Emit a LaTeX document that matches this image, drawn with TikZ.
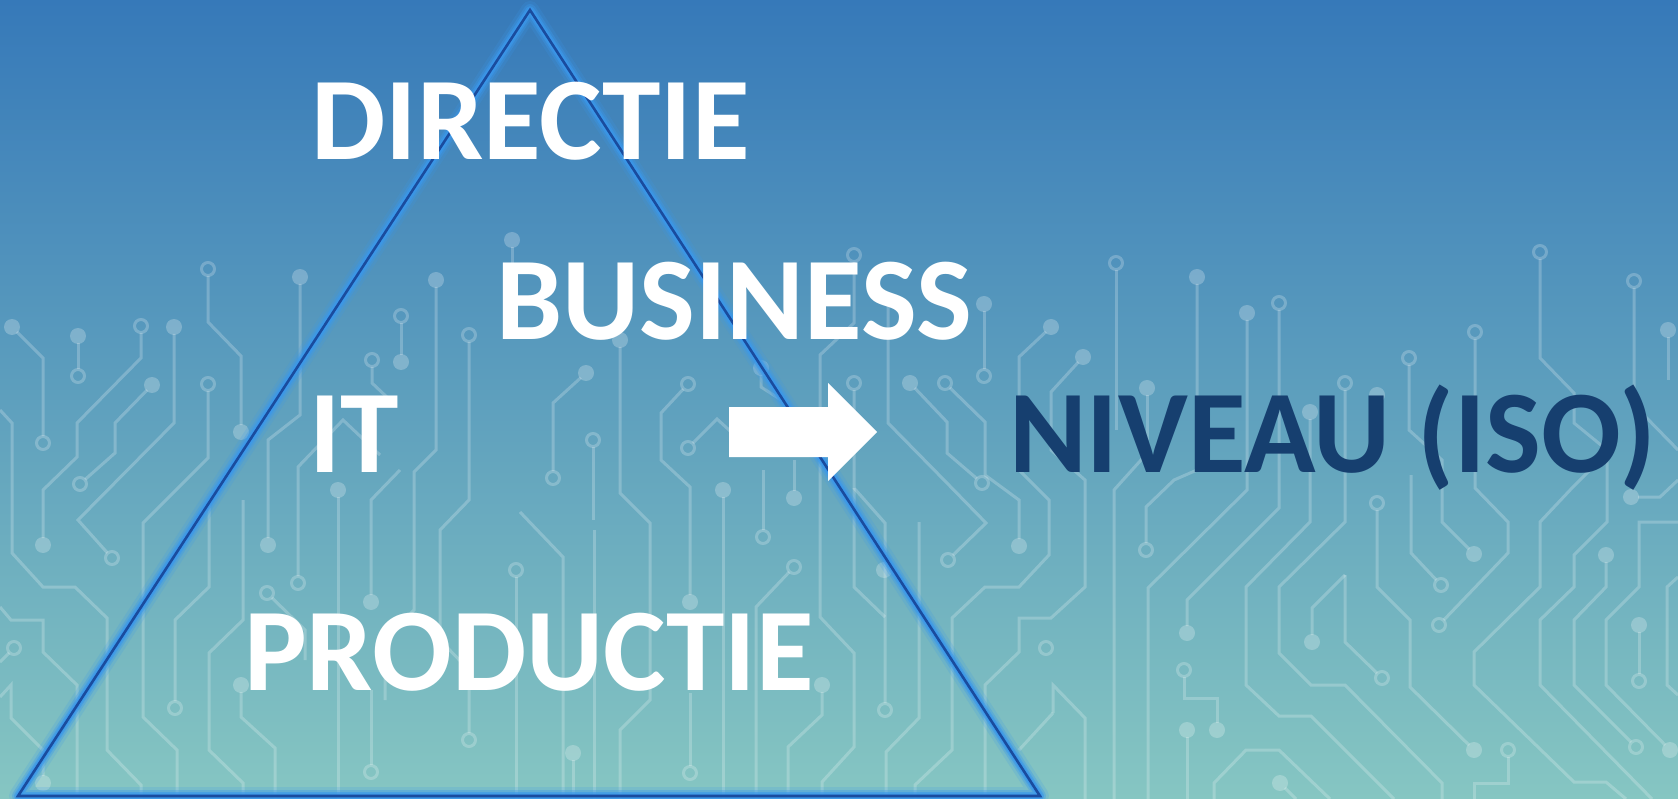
\documentclass[tikz,border=0pt]{standalone}
\usepackage{fontspec}
\newfontfamily\carl{Carlito}
\definecolor{bgtop}{HTML}{3679B9}
\definecolor{bgbot}{HTML}{86C6C2}
\definecolor{triline}{HTML}{1A4C9E}
\definecolor{triglow}{HTML}{3A98EC}
\definecolor{navy}{HTML}{163F6F}
\tikzset{
  tr/.style={draw=white, draw opacity=0.22, line width=3pt},
  pdot/.style={fill=white, fill opacity=0.24},
  pring/.style={draw=white, draw opacity=0.22, line width=3pt},
  ts/.style={shorten <=7pt},
  te/.style={shorten >=7pt},
  lbl/.style={font=\carl\bfseries\fontsize{118}{120}\selectfont, text=white, inner sep=0pt, anchor=base west},
}
\newcommand\pd[1]{\fill[pdot] (#1) circle[radius=8pt];}
\newcommand\pr[1]{\draw[pring] (#1) circle[radius=6.5pt];}
\begin{document}
\begin{tikzpicture}[x=1pt,y=-1pt]
\useasboundingbox (0,0) rectangle (1678,799);
\shade[top color=bgtop, bottom color=bgbot] (0,0) rectangle (1678,799);

% ---------- circuit pattern ----------
% left part
\pd{12,327} \draw[tr,ts,te] (12,327)--(43,358)--(43,443); \pr{43,443}
\pd{78,336} \draw[tr,ts,te] (78,336)--(78,376); \pr{78,376}
\pr{141,326} \draw[tr,ts,te] (141,326)--(141,358)--(77,423)--(77,457)--(43,490)--(43,545); \pd{43,545}
\pd{152,385} \draw[tr,ts,te] (152,385)--(115,423)--(115,453)--(80,484); \pr{80,484}
\pd{174,327} \draw[tr,ts,te] (174,327)--(174,423)--(78,520)--(112,558); \pr{112,558}
\pr{208,269} \draw[tr,ts,te] (208,269)--(208,322)--(241,356)--(241,432); \pd{241,432}
\pr{208,384} \draw[tr,ts] (208,384)--(208,458)--(143,523)--(143,717)--(177,750)--(177,799);
\pd{300,277} \draw[tr,ts,te] (300,277)--(300,415)--(268,440)--(268,545); \pd{268,545}
\pr{372,360} \draw[tr,ts] (372,360)--(372,383)--(390,400);
\draw[tr,te] (380,455)--(343,420)--(298,467)--(298,583); \pr{298,583}
\pd{338,490} \draw[tr,ts] (338,490)--(338,799);
\draw[tr] (0,410)--(12,423)--(12,553)--(43,587)--(75,587)--(107,618)--(107,750)--(141,785)--(141,799);
\draw[tr] (0,607)--(11,620)--(43,620)--(43,652)--(77,685)--(77,799);
\pr{14,648} \draw[tr,ts] (14,648)--(0,662);
\draw[tr,te] (0,697)--(11,685)--(11,718)--(43,750)--(43,783); \pd{43,783}
\draw[tr,te] (209,500)--(209,587)--(175,620)--(175,708); \pr{175,708}
\draw[tr] (243,500)--(243,620)--(209,653)--(209,750)--(243,783)--(243,799);
\pd{241,685} \draw[tr,ts] (241,685)--(241,717)--(275,748)--(275,799);
\pr{267,593} \draw[tr,ts] (267,593)--(305,630)--(305,660);
\pd{371,602} \draw[tr,ts] (371,602)--(371,500)--(400,470);
\pr{371,772} \draw[tr,ts] (371,772)--(371,690);
\pd{436,280} \draw[tr,ts] (436,280)--(436,450)--(414,472)--(414,610)--(385,640)--(385,700);
\pr{469,335} \draw[tr,ts,te] (469,335)--(469,500)--(440,530)--(440,640)--(469,670)--(469,740); \pr{469,740}
\pr{516,570} \draw[tr,ts] (516,570)--(516,799);
\pd{512,240} \draw[tr,ts] (512,240)--(512,270);
\pr{401,316} \draw[tr,ts,te] (401,316)--(401,362); \pd{401,362}
\pr{553,478} \draw[tr,ts,te] (553,478)--(553,403)--(586,373); \pd{586,373}
\pr{593,440} \draw[tr,ts] (593,440)--(593,520);
\draw[tr] (520,512)--(563,557)--(563,799);
\pd{620,340} \draw[tr,ts] (620,340)--(620,493)--(650,523)--(650,607)--(650,700)--(620,730)--(620,799);
\pr{688,384} \draw[tr,ts,te] (688,384)--(661,413)--(661,460)--(690,487)--(690,602); \pd{690,602}
\pr{690,773} \draw[tr,ts] (690,773)--(690,693);
\pd{723,490} \draw[tr,ts] (723,490)--(723,799);
\pr{688,448} \draw[tr,ts] (688,448)--(717,419)--(740,440);
\pd{761,368} \draw[tr,ts] (761,368)--(761,387)--(786,403);
\pr{763,537} \draw[tr,ts] (763,537)--(763,470);
\pd{794,498} \draw[tr,ts] (794,498)--(794,460);
\pr{794,567} \draw[tr,ts] (794,567)--(756,607)--(756,799);
\pd{822,685} \draw[tr,ts] (822,685)--(822,715)--(788,747)--(788,799);
\pr{854,255} \draw[tr,ts] (854,255)--(854,323)--(820,355)--(820,617)--(854,653)--(854,747)--(822,782)--(822,799);
\pr{854,383} \draw[tr,ts,te] (854,383)--(854,488)--(885,523)--(885,710); \pr{885,710}
\draw[tr] (854,488)--(854,587)--(885,617);
\pd{884,570}
\draw[tr,te] (888,293)--(888,423)--(944,480)--(986,523)--(948,560); \pr{948,560}
\pd{910,383} \draw[tr,ts,te] (910,383)--(947,422)--(947,453)--(982,483); \pr{982,483}
\pr{945,383} \draw[tr,ts,te] (945,383)--(985,422)--(985,475)--(1019,500)--(1019,546); \pd{1019,546}
\pd{984,304} \draw[tr,ts,te] (984,304)--(984,376); \pr{984,376}
\pd{1051,327} \draw[tr,ts] (1051,327)--(1019,357)--(1019,470)--(1049,500)--(1049,555)--(1019,587)--(985,587)--(952,618)--(952,750)--(915,785)--(915,799);
\pd{1083,357} \draw[tr,ts] (1083,357)--(1051,392)--(1051,450)--(1085,480)--(1085,587)--(1051,618)--(1019,618)--(1019,652)--(985,685)--(985,799);
\draw[tr] (1053,713)--(1053,685)--(1085,718)--(1085,799);
\draw[tr] (1053,713)--(1019,750);
\pr{1046,648}
\draw[tr] (919,522)--(919,718)--(886,752)--(886,799);
\draw[tr] (594,530)--(594,799);
\pd{573,753} \draw[tr,ts] (573,753)--(573,799);
% right part
\pr{1116,263} \draw[tr,ts] (1116,263)--(1116,430);
\draw[tr] (1150,450)--(1114,490)--(1114,799);
\pd{1197,277} \draw[tr,ts,te] (1197,277)--(1197,470)--(1174,480)--(1146,507)--(1146,550); \pr{1146,550}
\pd{1247,313} \draw[tr,ts] (1247,313)--(1247,490)--(1148,588)--(1148,799);
\pr{1279,303} \draw[tr,ts,te] (1279,303)--(1279,508)--(1187,600)--(1187,633); \pd{1187,633}
\pd{1147,388} \draw[tr,ts] (1147,388)--(1147,440);
\pd{1310,412} \draw[tr,ts] (1310,412)--(1310,522)--(1246,587)--(1246,685)--(1279,716)--(1311,716)--(1394,799);
\pr{1345,383} \draw[tr,ts] (1345,383)--(1345,522)--(1279,587)--(1279,653)--(1311,685)--(1345,685)--(1442,783)--(1442,799);
\draw[tr,te] (1345,575)--(1312,608)--(1312,642); \pd{1312,642}
\draw[tr,te] (1345,575)--(1345,642)--(1382,678); \pr{1382,678}
\pd{1377,395}
\pr{1377,503} \draw[tr,ts,te] (1377,503)--(1377,587)--(1410,620)--(1410,687)--(1474,750); \pd{1474,750}
\pr{1409,358} \draw[tr,ts,te] (1409,358)--(1409,430)--(1442,460)--(1442,522)--(1474,554); \pd{1474,554}
\draw[tr,te] (1411,475)--(1411,553)--(1441,585); \pr{1441,585}
\pr{1475,332} \draw[tr,ts,te] (1475,332)--(1475,488)--(1508,522)--(1508,553)--(1439,625); \pr{1439,625}
\pr{1540,252} \draw[tr,ts] (1540,252)--(1540,358)--(1574,393)--(1574,423)--(1607,450)--(1607,522)--(1574,555)--(1574,587)--(1540,620)--(1540,685)--(1652,799);
\pr{1634,281} \draw[tr,ts] (1634,281)--(1634,405)--(1678,450);
\draw[tr] (1592,468)--(1572,488)--(1540,522)--(1540,587)--(1474,652)--(1474,685)--(1574,782)--(1606,782)--(1626,799);
\pd{1606,555} \draw[tr,ts,te] (1606,555)--(1606,587)--(1574,620)--(1574,685)--(1636,747); \pr{1636,747}
\draw[tr,te] (1678,522)--(1639,522)--(1639,587)--(1606,620)--(1606,685)--(1670,750); \pd{1670,750}
\pd{1639,625} \draw[tr,ts,te] (1639,625)--(1639,681); \pr{1639,681}
\pr{1508,750} \draw[tr,ts] (1508,750)--(1508,783)--(1474,783)--(1474,799);
\pd{1187,730} \draw[tr,ts] (1187,730)--(1187,799);
\pr{1184,670} \draw[tr,ts,te] (1184,670)--(1184,698)--(1217,698)--(1217,730); \pd{1217,730}
\draw[tr] (1214,799)--(1214,783)--(1246,750)--(1279,750)--(1330,799);
\pd{1280,783} \draw[tr,ts] (1280,783)--(1296,799);
\draw[tr] (1678,577)--(1667,587)--(1667,685)--(1678,695);
\pd{1631,497} \draw[tr,ts] (1631,497)--(1660,497)--(1678,480);
\pd{1668,330} \draw[tr,ts] (1668,330)--(1668,380);

% ---------- triangle ----------
\coordinate (apex) at (530,10);
\coordinate (bl) at (18,796);
\coordinate (br) at (1040,796);
\draw[triglow, draw opacity=0.18, line width=18pt, line join=round] (apex)--(bl)--(br)--cycle;
\draw[triglow, draw opacity=0.35, line width=12pt, line join=round] (apex)--(bl)--(br)--cycle;
\draw[triglow, draw opacity=0.6, line width=8pt, line join=round] (apex)--(bl)--(br)--cycle;
\draw[triglow, draw opacity=0.8, line width=5pt, line join=round] (apex)--(bl)--(br)--cycle;
\draw[triline, line width=2.6pt, line join=miter] (apex)--(bl)--(br)--cycle;

% ---------- arrow ----------
\fill[white] (729,407)--(828,407)--(828,383)--(877,432)--(828,481)--(828,457)--(729,457)--cycle;

% ---------- labels ----------
\node[lbl] (directie) at (311,160) {DIRECTIE};
\node[lbl] (business) at (496,340) {BUSINESS};
\node[lbl] (it) at (309,472) {IT};
\node[lbl] (productie) at (244,690) {PRODUCTIE};
\node[lbl, text=navy] (niveau) at (1009,472) {NIVEAU (ISO)};
\end{tikzpicture}
\end{document}
